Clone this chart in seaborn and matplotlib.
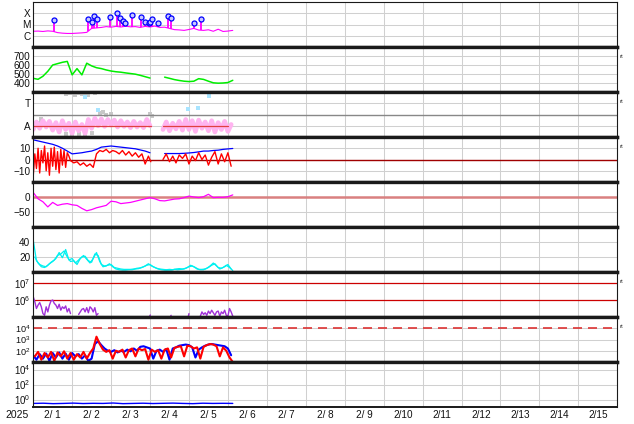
import numpy as np
import pandas as pd
import matplotlib
matplotlib.use("Agg")
import matplotlib.pyplot as plt
from matplotlib.ticker import NullLocator
import seaborn as sns

nan = np.nan

# ---- x axis (days of Feb 2025) ----
day_labels = ["2/ 1", "2/ 2", "2/ 3", "2/ 4", "2/ 5", "2/ 6", "2/ 7", "2/ 8",
              "2/ 9", "2/10", "2/11", "2/12", "2/13", "2/14", "2/15"]

# ---- panel 1: x-ray flux (units of 1e-6 W/m2), 3 h samples ----
xray_base = [2.5, 2.6, 2.4, 2.7, 2.5, 1.9, 1.7, 1.6, 1.6, 1.7, 1.8, 2.0, 4.5, 5.0,
             5.5, 6.5, 5.8, 6.8, 6.0, 7.0, 6.2, 6.5, 5.5, 6.8, 6.0, 7.2, 5.5, 5.8,
             4.5, 3.5, 3.3, 3.0, 3.6, 4.5, 3.2, 3.0, 3.4, 2.5, 3.8, 2.4, 2.6, 3.0]
flare_hours = [12.8, 33.8, 36.1, 37.5, 39.3, 47.3, 51.6, 53.3, 55.1, 56.5, 60.8,
               66.4, 68.8, 71.3, 72.1, 73.3, 76.8, 82.9, 85.0, 98.9, 103.2]
flare_peak = [25, 31, 16, 57, 29, 46, 105, 35, 22, 14.5, 66,
              46, 16, 13.6, 16, 29, 13, 57, 35, 13, 31]

# ---- panel 2: solar wind speed, 3 h samples ----
speed = [452, 441, 475, 530, 600, 615, 630, 640, 490, 560, 490, 620, 590, 570,
         560, 545, 533, 525, 520, 512, 505, 498, 485, 470, 455, nan, nan, 465,
         452, 438, 428, 420, 416, 420, 448, 440, 420, 402, 398, 400, 405, 430]

# ---- panel 3: IMF angle, 2 h samples ----
phi_pink = [60, 120, 70, 130, 80, 125, 55, 115, 40, 130, 60, 110, 30, 120, 50, 100,
            30, 140, 70, 150, 90, 145, 85, 140, 95, 135, 80, 130, 85, 120, 75, 125,
            80, 115, 75, 140, 90, nan, nan, nan, 60, 120, 50, 110, 65, 125, 55, 140,
            60, 130, 45, 135, 70, 120, 50, 130, 40, 115, 60, 125, 45, 100]
gray_hours = [3, 5, 20, 22, 24, 26, 28, 30, 32, 34, 38, 20, 24, 28, 32, 36, 41, 43,
              45, 48, 72, 73]
gray_phi = [110, 140, 345, 355, 350, 340, 355, 345, 350, 340, 355, 20, 15, 25, 20,
            30, 190, 200, 175, 185, 185, 170]
cyan_pt_hours = [31.8, 40.0, 95.2, 101.3, 108.5]
cyan_pt_phi = [322, 216, 222, 232, 328]
away_hours = [0, 72.7, 76, 80, 119.8]
away_phi = [90, 90, nan, 90, 90]

# ---- panel 4: Bt (3 h) and Bz ----
bt = [17.5, 16.5, 15.5, 14.5, 13.5, 12, 10, 7.5, 5, 5.5, 6, 6.8, 7.5, 9, 11, 11.5,
      12, 11.5, 11, 10.5, 10, 9.5, 8.5, 7.5, 6, nan, nan, 5.3, 5.3, 5.3, 5.3, 5.5,
      5.8, 6.2, 6.8, 7.5, 7.5, 8, 8.3, 9, 9.4, 9.8]
bz_hours = (list(range(0, 23)) + list(range(23, 41, 2)) + list(range(41, 73, 2))
            + [72.5, 76] + list(range(80, 123, 2)))
bz = ([-15, 5, -8, 10, -12, 8, -3, 12, -10, 6, -14, 10, -6, 11, -9, 7, -12, 9, -5,
       8, -7, 6, 3]
      + [-1, -3, -2, -5, -3, -6, -4, -7, 5]
      + [8, 7, 9, 6, 8, 7, 5, 8, 4, 7, 3, 6, 2, 5, -4, 3]
      + [-2, nan]
      + [0, 5, -2, 3, -3, 4, 1, 5, -4, 3, -1, 6, 0, 4, -5, 2, 7, -4, 5, -2, 6, -6])

# ---- panel 5: Dst-like index, 3 h ----
dst = [15, -6, -16, -33, -18, -28, -24, -22, -26, -28, -38, -46, -42, -36, -32,
       -28, -14, -16, -22, -20, -18, -14, -10, -6, -2, -6, -12, -13, -10, -7, -6,
       -2, 3, 0, -2, 1, 9, -2, -1, -1, 1, 7]

# ---- panel 6: two cyan traces, 2 h ----
cyan_a = [43, 15, 10, 8, 7, 11, 14, 18, 26, 19, 30, 16, 18, 12, 16, 20, 21, 15, 13,
          24, 22, 10, 8, 9, 10, 6, 5, 4, 3.5, 3.5, 3.5, 4, 5, 5.5, 7, 9, 10, 7, 5,
          4, 3.5, 3, 3.5, 3, 4, 4.5, 4, 5, 7, 8, 6, 3.5, 3.5, 4, 6, 9, 11, 6, 5, 7,
          10, 4]
cyan_b = [20, 12, 7, 6, 9, 13, 16, 22, 24, 28, 20, 14, 15, 10, 18, 22, 17, 12, 18,
          26, 14, 7, 8, 11, 7, 4, 3, 2.5, 2.5, 3, 3, 4, 4.5, 6, 8, 11, 8, 6, 4, 3,
          2.5, 2.5, 2.5, 3.5, 3, 3.5, 4, 6, 9, 7, 4, 3, 3, 5, 8, 12, 8, 4, 6, 9, 6, 2]

# ---- panel 7: purple flux (log10) ----
purple_hours = (list(range(0, 24)) + [25] + list(range(28, 41)) + [42, 71.5, 72.2, 78,
                84.5, 85, 90, 95.5, 96, 100] + list(range(103, 124)))
purple_log = ([6.2, 5.9, 5.5, 5.7, 5.85, 5.6, 5.2, 5.1, 5.6, 5.3, 5.7, 5.95, 6.0, 5.8,
               5.7, 5.5, 5.75, 5.4, 5.6, 5.5, 5.65, 5.3, 5.5, 5.2]
              + [nan]
              + [5.15, 5.3, 5.45, 5.5, 5.3, 5.55, 5.25, 5.6, 5.5, 5.3, 5.55, 5.1, 5.2]
              + [nan, 5.0, 5.12, nan, 5.0, 5.1, nan, 5.0, 5.2, nan]
              + [5.05, 5.3, 5.15, 5.25, 5.1, 5.35, 5.2, 5.4, 5.25, 5.1, 5.3, 5.35,
                 5.05, 5.3, 5.2, 5.4, 5.1, 5.05, 5.5, 5.3, 5.05])

# ---- panel 8: blue / red flux (log10), 2 h ----
p8_blue_log = [1.6, 1.2, 1.7, 1.3, 1.75, 1.1, 1.8, 1.4, 1.85, 1.3, 1.75, 1.2, 1.8,
               1.5, 1.7, 1.3, 1.6, 1.1, 1.3, 2.6, 2.85, 2.5, 2.2, 2.0, 1.9, 2.05,
               1.85, 2.0, 1.9, 2.1, 1.95, 2.2, 2.0, 2.35, 2.4, 2.3, 2.2, 1.3, 2.0,
               2.1, 1.9, 2.15, 1.2, 2.2, 2.3, 2.45, 2.5, 2.55, 2.5, 2.3, 1.4, 2.1,
               2.3, 2.45, 2.55, 2.6, 2.55, 2.5, 2.45, 2.4, 2.2, 1.6]
p8_red_log = [1.5, 1.9, 1.2, 1.8, 1.4, 1.9, 1.1, 1.85, 1.5, 1.95, 1.3, 1.8, 1.2,
              1.7, 1.4, 1.9, 1.3, 1.8, 2.2, 3.25, 2.6, 2.1, 1.9, 2.05, 1.3, 2.0,
              1.9, 2.1, 1.4, 2.05, 2.2, 1.5, 2.2, 2.05, 2.15, 1.2, 2.1, 1.9, 2.05,
              1.3, 2.1, 2.2, 1.4, 2.25, 2.35, 2.4, 1.5, 2.45, 2.4, 2.2, 2.3, 1.3,
              2.35, 2.5, 2.6, 2.55, 2.4, 1.5, 2.3, 2.0, 1.4, 1.0]

# ---- panel 9: low blue flux ----
p9_blue = [0.3, 0.32, 0.28, 0.3, 0.33, 0.29, 0.31, 0.3, 0.34, 0.28, 0.3, 0.32, 0.29,
           0.31, 0.33, 0.3, 0.28, 0.32, 0.3, 0.31, 0.3]


def frame(hours, values):
    df = pd.DataFrame({"t": np.asarray(hours, dtype=float) / 24.0,
                       "v": np.asarray(values, dtype=float)})
    df["seg"] = df["v"].isna().cumsum()
    return df.dropna()


def line(ax, hours, values, color, lw=0.9, **kw):
    sns.lineplot(data=frame(hours, values), x="t", y="v", units="seg",
                 estimator=None, color=color, linewidth=lw, ax=ax,
                 legend=False, **kw)


def grid_hours(values, step, start=0.0):
    return start + step * np.arange(len(values))


sns.set_style("white")
plt.rcParams["font.family"] = ["Liberation Sans", "DejaVu Sans"]
plt.rcParams["mathtext.default"] = "regular"

W, H = 634, 424
fig = plt.figure(figsize=(W / 100, H / 100), dpi=100)
x0, x1 = 33.2, 617.3
top0, ph = 2, 45
axes = []
for i in range(9):
    top = top0 + i * ph
    axes.append(fig.add_axes([x0 / W, 1 - (top + ph) / H, (x1 - x0) / W, ph / H]))

magenta = "#ff00ff"

# panel 1
ax = axes[0]
ax.set_yscale("log")
xh = grid_hours(xray_base, 3)
base = np.array(xray_base) * 1e-6
line(ax, xh, base, magenta, lw=0.8)
stem_lo = 10 ** np.interp(flare_hours, xh, np.log10(base))
ax.vlines(np.array(flare_hours) / 24, stem_lo, np.array(flare_peak) * 1e-6,
          color=magenta, lw=1.3, zorder=3)
sns.scatterplot(x=np.array(flare_hours) / 24, y=np.array(flare_peak) * 1e-6, ax=ax,
                marker="o", s=13, color="#c8c8ff", edgecolor="#0000ff",
                linewidth=0.9, zorder=4)
ax.set_ylim(1e-7, 1e-3)
ax.set_yticks([1e-6, 1e-5, 1e-4])
ax.set_yticklabels(["C", "M", "X"])

# panel 2
ax = axes[1]
line(ax, grid_hours(speed, 3), speed, "#00ee00", lw=1.1)
ax.set_ylim(300, 800)
ax.set_yticks([400, 500, 600, 700])

# panel 3
ax = axes[2]
ax.axhline(180, color="#888888", lw=1.0, zorder=1.5)
sns.scatterplot(x=np.array(gray_hours) / 24, y=gray_phi, ax=ax, marker="s", s=9,
                color="#c8c8c8", edgecolor="none")
line(ax, grid_hours(phi_pink, 2), phi_pink, "#ffb4f0", lw=3.4)
line(ax, away_hours, away_phi, "#e04040", lw=0.9)
sns.scatterplot(x=np.array(cyan_pt_hours) / 24, y=cyan_pt_phi, ax=ax, marker="s",
                s=8, color="#a8e4ff", edgecolor="none")
ax.set_ylim(0, 360)
ax.set_yticks([90, 270])
ax.set_yticklabels(["A", "T"])

# panel 4
ax = axes[3]
ax.axhline(0, color="#a00000", lw=1.0, zorder=1.5)
line(ax, grid_hours(bt, 3), bt, "#0000ff", lw=0.9)
line(ax, bz_hours, bz, "#ff0000", lw=1.0)
ax.set_ylim(-20, 20)
ax.set_yticks([-10, 0, 10])

# panel 5
ax = axes[4]
ax.axhline(0, color="#d98080", lw=1.8, zorder=1.5)
line(ax, grid_hours(dst, 3), dst, magenta, lw=0.9)
ax.set_ylim(-100, 50)
ax.set_yticks([-50, 0])

# panel 6
ax = axes[5]
line(ax, grid_hours(cyan_a, 2), cyan_a, "#00f0f0", lw=0.9)
line(ax, grid_hours(cyan_b, 2, 1), cyan_b, "#00f0f0", lw=0.9)
ax.set_ylim(0, 60)
ax.set_yticks([20, 40])

# panel 7
ax = axes[6]
ax.set_yscale("log")
for lvl in (1e6, 1e7):
    ax.axhline(lvl, color="#cc0000", lw=0.9, zorder=1.5)
line(ax, purple_hours, 10 ** np.array(purple_log), "#a030d8", lw=1.0)
ax.set_ylim(1e5, 10 ** 7.65)
ax.set_yticks([1e6, 1e7])
ax.set_yticklabels(["$10^{6}$", "$10^{7}$"])

# panel 8
ax = axes[7]
ax.set_yscale("log")
ax.axhline(1e4, color="#dd3333", lw=1.2, ls=(0, (5.4, 3.6)), zorder=1.5)
line(ax, grid_hours(p8_blue_log, 2), 10 ** np.array(p8_blue_log), "#0000ff", lw=1.5)
line(ax, grid_hours(p8_red_log, 2, 1), 10 ** np.array(p8_red_log), "#ff0000", lw=1.5)
ax.set_ylim(1e1, 1e5)
ax.set_yticks([1e2, 1e3, 1e4])
ax.set_yticklabels(["$10^{2}$", "$10^{3}$", "$10^{4}$"])

# panel 9
ax = axes[8]
ax.set_yscale("log")
line(ax, grid_hours(p9_blue, 6.15), p9_blue, "#0000ff", lw=1.0)
ax.set_ylim(1e-1, 1e5)
ax.set_yticks([1e0, 1e2, 1e4])
ax.set_yticklabels(["$10^{0}$", "$10^{2}$", "$10^{4}$"])

label_sizes = [7.2, 7.2, 7.2, 7.2, 7.2, 7.2, 7.0, 6.6, 7.0]
for i, ax in enumerate(axes):
    ax.set_xlabel("")
    ax.set_ylabel("")
    ax.set_xlim(0, 15)
    ax.set_xticks(np.arange(15) + 0.5)
    ax.set_xticks(np.arange(1, 15), minor=True)
    ax.yaxis.set_minor_locator(NullLocator())
    ax.xaxis.grid(True, which="minor", color="#d0d0d0", lw=0.75)
    ax.xaxis.grid(False, which="major")
    ax.yaxis.grid(True, which="major", color="#d0d0d0", lw=0.75)
    ax.set_axisbelow(True)
    ax.tick_params(axis="both", which="both", length=0, pad=2,
                   labelsize=label_sizes[i], colors="#111111")
    ax.tick_params(axis="x", labelsize=7.2)
    for s in ax.spines.values():
        s.set_color("#1a1a1a")
        s.set_linewidth(0.8)
    ax.spines["bottom"].set_linewidth(2.4 if i < 8 else 1.4)
    if i > 0:
        ax.spines["top"].set_linewidth(2.4)
    if i < 8:
        ax.set_xticklabels([])
    else:
        ax.set_xticklabels(day_labels)

fig.text(17 / W, 1 - 415 / H, "2025", ha="center", va="center", fontsize=7.5,
         color="#111111")
for i in [1, 2, 3, 6, 7]:
    fig.text(620 / W, 1 - (top0 + i * ph + 9.5) / H, "rt", fontsize=4.5,
             color="#444444", va="center", ha="left")

fig.savefig("out.png", dpi=100)
